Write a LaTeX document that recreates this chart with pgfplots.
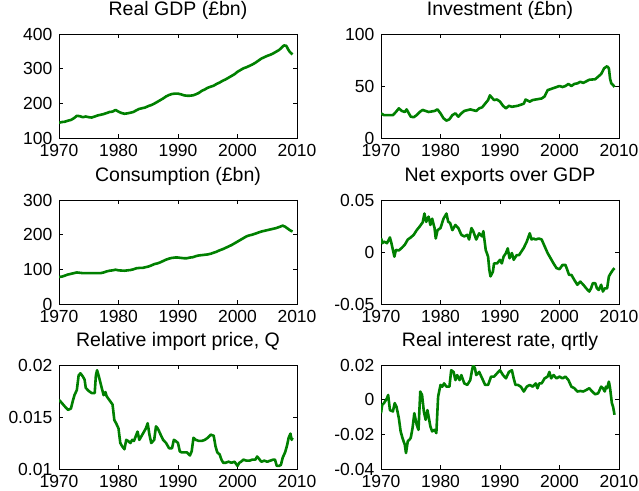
\documentclass[border=0pt]{standalone}
\usepackage{fontspec}
\setmainfont{Liberation Sans}
\usepackage{pgfplots}
\pgfplotsset{compat=1.18}
\definecolor{mgreen}{RGB}{0,128,0}
\pgfplotsset{
 gline/.style={draw=mgreen, line width=2.6pt, line join=round, mark=none},
 panel/.style={
  scale only axis, width=238pt, height=104pt, anchor=south west,
  xmin=1970, xmax=2010, xtick={1970,1980,1990,2000,2010},
  xticklabels={1970,1980,1990,2000,2010},
  scaled x ticks=false, scaled y ticks=false,
  tick align=inside, xtick pos=both, ytick pos=both,
  xticklabel pos=bottom, yticklabel pos=left,
  major tick length=4pt, minor tick num=0,
  axis line style={line width=0.6pt},
  major tick style={black, line width=0.6pt},
  ticklabel style={font=\fontsize{17.5}{17.5}\selectfont},
  xticklabel style={inner sep=0pt, anchor=north, yshift=-6.5pt},
  yticklabel style={inner sep=0pt, anchor=east, xshift=-6.5pt},
  title style={font=\fontsize{19.5}{19.5}\selectfont, at={(0.5,1)}, anchor=base, yshift=12.5pt, inner sep=0pt},
 }
}
\begin{document}
\begin{tikzpicture}
\useasboundingbox (0,0) rectangle (639pt,490pt);
% Real GDP
\begin{axis}[panel, at={(59pt,352pt)}, title={Real GDP (£bn)},
  ymin=100, ymax=400, ytick={100,200,300,400}, yticklabels={100,200,300,400}]
\addplot[gline] coordinates {(1970,144)(1970.5,146)(1971,147)(1971.5,150)(1972,152)(1972.5,157)(1973,164)(1973.5,163)(1974,160)(1974.5,162)(1975,160)(1975.5,159)(1976,162)(1976.5,165)(1977,167)(1977.5,169)(1978,172)(1978.5,175)(1979,176)(1979.5,181)(1980,176)(1980.5,172)(1981,170)(1981.5,171)(1982,173)(1982.5,175)(1983,180)(1983.5,184)(1984,186)(1984.5,188)(1985,192)(1985.5,195)(1986,199)(1986.5,204)(1987,209)(1987.5,214)(1988,220)(1988.5,224)(1989,227)(1989.5,228)(1990,228)(1990.5,226)(1991,223)(1991.5,222)(1992,222)(1992.5,223)(1993,226)(1993.5,230)(1994,236)(1994.5,240)(1995,245)(1995.5,248)(1996,251)(1996.5,256)(1997,260)(1997.5,265)(1998,269)(1998.5,274)(1999,279)(1999.5,284)(2000,291)(2000.5,296)(2001,301)(2001.5,304)(2002,308)(2002.5,312)(2003,317)(2003.5,323)(2004,329)(2004.5,333)(2005,337)(2005.5,340)(2006,344)(2006.5,349)(2007,354)(2007.5,362)(2007.8,367)(2008.2,366)(2008.5,356)(2008.8,348)(2009,345)(2009.25,341)};
\end{axis}
% Investment
\begin{axis}[panel, at={(381pt,352pt)}, title={Investment (£bn)},
  ymin=0, ymax=100, ytick={0,50,100}, yticklabels={0,50,100}]
\addplot[gline] coordinates {(1970,23.7)(1970.5,22)(1971,22)(1972,22)(1972.5,25)(1973,28.5)(1973.5,26)(1974,25)(1974.3,27.5)(1975,20.5)(1975.5,20)(1976,22)(1976.5,25)(1977,27)(1978,25)(1979,26)(1979.5,27.5)(1980,23.7)(1980.5,19)(1981,16.7)(1981.5,18)(1982,22)(1982.5,23.7)(1983,20.5)(1983.5,23.7)(1984,26)(1985,27.5)(1986,26)(1986.5,28.5)(1987,29.5)(1987.5,33)(1988,36.5)(1988.3,41)(1988.6,39)(1989,36.5)(1989.5,37)(1990,35)(1990.5,31)(1991,28.5)(1991.5,31)(1992,30)(1993,31)(1994,33)(1994.3,37)(1995,35)(1995.5,36.5)(1996,37)(1997,38)(1997.5,40)(1998,46)(1998.5,47)(1999,48)(1999.5,49)(2000,50)(2000.5,49)(2001,50)(2001.5,52)(2002,50)(2002.5,52)(2003,52.5)(2003.5,54)(2004,53)(2005,56)(2006,56.5)(2006.5,59)(2007,61.5)(2007.5,67)(2008,69)(2008.3,67)(2008.5,57)(2008.7,52.5)(2009,51)(2009.25,49)};
\end{axis}
% Consumption
\begin{axis}[panel, at={(59pt,186pt)}, title={Consumption (£bn)},
  ymin=0, ymax=300, ytick={0,100,200,300}, yticklabels={0,100,200,300}]
\addplot[gline] coordinates {(1970,78)(1970.5,79)(1971,82)(1971.5,85)(1972,87)(1972.5,89)(1973,91)(1973.5,90)(1974,89)(1975,89)(1976,89)(1977,89)(1977.5,91)(1978,94)(1978.5,96)(1979,97)(1979.5,99)(1980,97)(1981,96)(1982,98)(1982.5,100)(1983,103)(1983.5,104)(1984,104)(1984.5,106)(1985,108)(1985.5,111)(1986,115)(1986.5,117)(1987,120)(1987.5,124)(1988,128)(1988.5,131)(1989,133)(1989.5,134)(1990,134)(1990.5,133)(1991,132)(1991.5,132)(1992,134)(1992.5,135)(1993,138)(1993.5,140)(1994,141)(1994.5,142)(1995,143)(1995.5,145)(1996,148)(1996.5,151)(1997,155)(1997.5,158)(1998,162)(1998.5,166)(1999,170)(1999.5,175)(2000,180)(2000.5,185)(2001,190)(2001.5,195)(2002,198)(2002.5,200)(2003,203)(2003.5,206)(2004,209)(2004.5,211)(2005,213)(2005.5,215)(2006,217)(2006.5,219)(2007,222)(2007.6,226)(2008,223)(2008.4,218)(2008.8,213)(2009,211)(2009.25,209)};
\end{axis}
% Net exports
\begin{axis}[panel, at={(381pt,186pt)}, title={Net exports over GDP},
  ymin=-0.05, ymax=0.05, ytick={-0.05,0,0.05}, yticklabels={-0.05,0,0.05}]
\addplot[gline] coordinates {(1970,0.0133)(1970.25,0.0085)(1970.5,0.010)(1971,0.0085)(1971.5,0.014)(1971.75,0.0085)(1972,0.002)(1972.25,-0.0045)(1972.5,0.002)(1973,0.0015)(1973.5,0.004)(1974,0.007)(1974.5,0.012)(1975,0.014)(1975.5,0.0165)(1976,0.021)(1976.5,0.0245)(1977,0.0285)(1977.3,0.037)(1977.6,0.029)(1978,0.034)(1978.3,0.026)(1978.6,0.032)(1979,0.023)(1979.2,0.013)(1979.5,0.021)(1980,0.023)(1980.5,0.032)(1981,0.037)(1981.3,0.029)(1981.6,0.028)(1982,0.021)(1982.5,0.026)(1983,0.023)(1983.5,0.0165)(1984,0.015)(1984.5,0.0165)(1984.8,0.012)(1985.2,0.023)(1985.5,0.020)(1986,0.012)(1986.5,0.018)(1987,0.015)(1987.2,0.020)(1987.6,0.002)(1988,-0.0045)(1988.2,-0.017)(1988.4,-0.0235)(1988.8,-0.019)(1989,-0.011)(1989.5,-0.011)(1990,-0.0075)(1990.3,-0.011)(1990.6,-0.0045)(1991,-0.001)(1991.3,0.0035)(1991.6,-0.006)(1992,-0.001)(1992.3,-0.0075)(1992.8,-0.003)(1993.2,-0.003)(1993.6,0.0005)(1994,0.004)(1994.5,0.010)(1995,0.018)(1995.3,0.012)(1995.6,0.013)(1996,0.012)(1996.5,0.013)(1997,0.012)(1997.5,0.0055)(1998,-0.001)(1998.5,-0.006)(1999,-0.011)(1999.5,-0.0155)(2000,-0.0165)(2000.5,-0.0125)(2001,-0.0125)(2001.3,-0.017)(2001.6,-0.022)(2002,-0.022)(2002.5,-0.027)(2003,-0.0315)(2003.5,-0.0285)(2004,-0.0315)(2004.5,-0.035)(2005,-0.038)(2005.3,-0.035)(2005.6,-0.030)(2006,-0.030)(2006.3,-0.035)(2006.6,-0.0365)(2007,-0.0315)(2007.3,-0.038)(2007.6,-0.035)(2008,-0.035)(2008.3,-0.0235)(2008.6,-0.0205)(2009,-0.017)(2009.25,-0.0155)};
\end{axis}
% Relative import price
\begin{axis}[panel, at={(59pt,21pt)}, title={Relative import price, Q},
  ymin=0.01, ymax=0.02, ytick={0.01,0.015,0.02}, yticklabels={0.01,0.015,0.02}]
\addplot[gline] coordinates {(1970,0.01665)(1970.5,0.01633)(1971,0.0160)(1971.5,0.01569)(1972,0.0158)(1972.3,0.0165)(1972.6,0.0171)(1973,0.0176)(1973.3,0.0190)(1973.6,0.0192)(1974,0.0189)(1974.3,0.0186)(1974.5,0.0178)(1975,0.0175)(1975.5,0.0173)(1976,0.0173)(1976.2,0.0190)(1976.4,0.0195)(1976.7,0.0189)(1977,0.0182)(1977.5,0.0171)(1977.8,0.0174)(1978,0.0170)(1978.5,0.0166)(1979,0.0162)(1979.3,0.0147)(1979.6,0.0144)(1980,0.0139)(1980.3,0.0125)(1980.6,0.0122)(1981,0.0119)(1981.3,0.0128)(1981.6,0.0127)(1982,0.0125)(1982.3,0.0128)(1982.6,0.0127)(1983,0.0133)(1983.2,0.0136)(1983.5,0.0128)(1984,0.0133)(1984.3,0.0136)(1984.6,0.0139)(1984.9,0.0144)(1985.2,0.0133)(1985.5,0.0125)(1986,0.0128)(1986.3,0.0141)(1986.6,0.0139)(1987,0.0134)(1987.5,0.0128)(1988,0.0125)(1988.5,0.0120)(1989,0.0120)(1989.3,0.0128)(1989.6,0.0127)(1990,0.0125)(1990.3,0.0117)(1990.6,0.0116)(1991,0.0116)(1991.5,0.0116)(1992,0.0113)(1992.3,0.0117)(1992.6,0.0130)(1993,0.0128)(1993.5,0.0127)(1994,0.0127)(1994.5,0.0128)(1995,0.0130)(1995.5,0.0133)(1996,0.0132)(1996.3,0.0122)(1996.6,0.0116)(1997,0.0114)(1997.3,0.0109)(1997.6,0.0106)(1998,0.0106)(1998.5,0.0107)(1999,0.0106)(1999.5,0.0107)(2000,0.0103)(2000.3,0.0106)(2000.6,0.0107)(2001,0.0109)(2001.5,0.0108)(2002,0.0108)(2002.5,0.0109)(2003,0.0109)(2003.3,0.0112)(2003.6,0.0110)(2004,0.0107)(2004.5,0.0108)(2005,0.0107)(2005.5,0.0108)(2006,0.0109)(2006.3,0.0109)(2006.6,0.0103)(2007,0.0103)(2007.3,0.0104)(2007.6,0.0111)(2008,0.0116)(2008.3,0.0122)(2008.6,0.0130)(2008.9,0.0134)(2009.1,0.0128)(2009.25,0.0130)};
\end{axis}
% Real interest rate
\begin{axis}[panel, at={(381pt,21pt)}, title={Real interest rate, qrtly},
  ymin=-0.04, ymax=0.02, ytick={-0.04,-0.02,0,0.02}, yticklabels={-0.04,-0.02,0,0.02}]
\addplot[gline] coordinates {(1970,-0.0078)(1970.2,-0.003)(1970.5,-0.002)(1971,0.0008)(1971.2,0.0027)(1971.5,-0.006)(1972,-0.0068)(1972.3,-0.002)(1972.6,-0.004)(1973,-0.0107)(1973.3,-0.0183)(1973.6,-0.022)(1974,-0.026)(1974.2,-0.0308)(1974.5,-0.024)(1974.8,-0.023)(1975,-0.022)(1975.3,-0.0164)(1975.6,-0.0078)(1976,-0.0145)(1976.3,-0.0174)(1976.6,0.0047)(1976.9,0.0027)(1977.2,-0.0068)(1977.5,-0.0116)(1977.8,-0.006)(1978,-0.0097)(1978.3,-0.0155)(1978.6,-0.0183)(1979,-0.0174)(1979.3,-0.0193)(1979.6,0.0018)(1980,0.0085)(1980.3,0.0075)(1980.6,0.0094)(1981,0.0075)(1981.5,0.0075)(1981.8,0.017)(1982.2,0.016)(1982.5,0.0113)(1982.8,0.0142)(1983.2,0.0113)(1983.5,0.0142)(1984,0.0094)(1984.5,0.0085)(1985,0.0113)(1985.3,0.017)(1985.5,0.020)(1985.8,0.018)(1986,0.0142)(1986.5,0.016)(1987,0.0123)(1987.5,0.0085)(1988,0.0085)(1988.5,0.0133)(1989,0.0133)(1989.5,0.0152)(1990,0.017)(1990.5,0.0142)(1991,0.0123)(1991.5,0.016)(1992,0.017)(1992.3,0.0123)(1992.6,0.0085)(1993,0.0085)(1993.5,0.0075)(1994,0.0047)(1994.5,0.0075)(1995,0.0085)(1995.5,0.0075)(1996,0.0094)(1996.3,0.0066)(1996.6,0.0094)(1997,0.0094)(1997.5,0.0123)(1998,0.0133)(1998.3,0.016)(1998.6,0.0123)(1999,0.0142)(1999.5,0.0123)(2000,0.0133)(2000.5,0.0123)(2001,0.0133)(2001.5,0.0113)(2002,0.0075)(2002.5,0.0066)(2003,0.0047)(2003.5,0.005)(2004,0.0047)(2004.5,0.0056)(2005,0.0066)(2005.5,0.0047)(2006,0.0031)(2006.5,0.0037)(2007,0.0075)(2007.3,0.0066)(2007.6,0.0047)(2007.8,0.0075)(2008,0.0066)(2008.3,0.0104)(2008.5,0.0066)(2008.8,-0.002)(2009,-0.004)(2009.25,-0.0087)};
\end{axis}
\end{tikzpicture}
\end{document}
